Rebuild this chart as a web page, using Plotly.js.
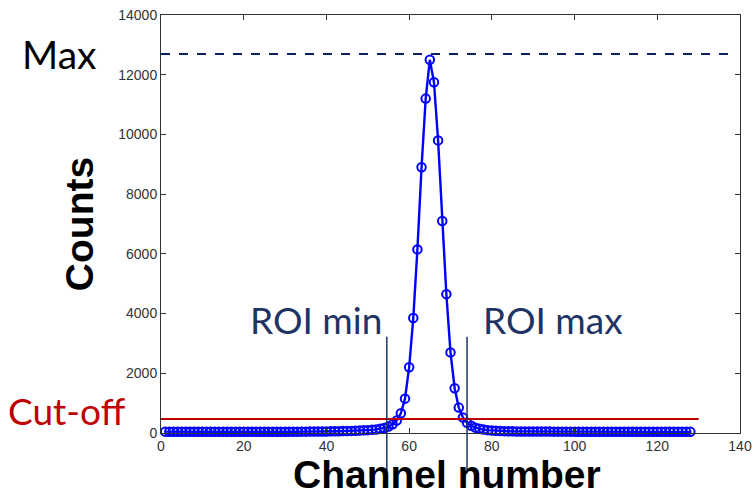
<!DOCTYPE html>
<html>
<head>
<meta charset="utf-8">
<script src="https://cdn.plot.ly/plotly-3.0.1.min.js"></script>
<style>html,body{margin:0;padding:0;background:#fff;}#chart{width:752px;height:495px;}</style>
</head>
<body>
<div id="chart"></div>
<script>
// Channel numbers 1..128
const channels = [
  1,2,3,4,5,6,7,8,9,10,11,12,13,14,15,16,17,18,19,20,
  21,22,23,24,25,26,27,28,29,30,31,32,33,34,35,36,37,38,39,40,
  41,42,43,44,45,46,47,48,49,50,51,52,53,54,55,56,57,58,59,60,
  61,62,63,64,65,66,67,68,69,70,71,72,73,74,75,76,77,78,79,80,
  81,82,83,84,85,86,87,88,89,90,91,92,93,94,95,96,97,98,99,100,
  101,102,103,104,105,106,107,108,109,110,111,112,113,114,115,116,117,118,119,120,
  121,122,123,124,125,126,127,128
];
// Counts
const counts = [
  45,42,40,41,38,40,42,39,40,41,
  40,38,41,40,39,42,40,41,39,40,
  41,40,42,40,41,43,42,41,43,44,
  43,45,44,46,45,47,48,50,51,53,
  55,57,60,63,66,70,75,80,88,95,
  105,120,140,170,215,290,420,660,1150,2200,
  3850,6150,8900,11200,12500,11750,9800,7100,4650,2700,
  1500,850,520,340,240,180,140,115,95,85,
  75,68,62,58,55,53,52,51,50,49,
  48,48,47,47,46,46,45,45,45,44,
  44,44,43,43,43,42,42,42,42,41,
  41,41,41,40,40,40,40,40,39,39,
  39,39,39,38,38,38,38,38
];
const xTicks = [0,20,40,60,80,100,120,140];
const yTicks = [0,2000,4000,6000,8000,10000,12000,14000];
const maxLevel = 12690;
const cutoffLevel = 470;
const cutoffEnd = 130;
const roiMin = 54.6;
const roiMax = 74.0;
const maxLineEnd = 138.8;

const navy = '#1f3464';
const data = [{
  x: channels, y: counts, type: 'scatter', mode: 'lines+markers',
  line: {color: '#0000ff', width: 2.4},
  marker: {symbol: 'circle-open', size: 8.5, color: '#0000ff', line: {width: 2, color: '#0000ff'}},
  hoverinfo: 'skip', cliponaxis: false
}];

const layout = {
  width: 752, height: 495,
  margin: {l: 161, r: 12, t: 15, b: 62},
  paper_bgcolor: '#fff', plot_bgcolor: '#fff',
  showlegend: false,
  font: {family: 'Liberation Sans, Arial, sans-serif', color: '#222'},
  xaxis: {
    range: [0, 140], tickvals: xTicks, ticktext: xTicks.map(String),
    ticks: 'inside', ticklen: 5, tickcolor: '#333', showline: true, linecolor: '#333', linewidth: 1,
    mirror: 'ticks', showgrid: false, zeroline: false,
    tickfont: {size: 14, color: '#333'}
  },
  yaxis: {
    range: [0, 14000], tickvals: yTicks, ticktext: yTicks.map(String),
    ticks: 'inside', ticklen: 5, tickcolor: '#333', showline: true, linecolor: '#333', linewidth: 1,
    mirror: 'ticks', showgrid: false, zeroline: false,
    tickfont: {size: 14, color: '#333'},
    title: {text: 'Counts', font: {size: 39, color: '#000', family: 'Liberation Sans, Arial, sans-serif', weight: 'bold'}, standoff: 12}
  },
  shapes: [
    {type: 'line', xref: 'x', yref: 'y', x0: 0, x1: maxLineEnd, y0: maxLevel, y1: maxLevel,
     line: {color: '#0a2060', width: 2, dash: 'dash'}},
    {type: 'line', xref: 'x', yref: 'y', x0: 0, x1: cutoffEnd, y0: cutoffLevel, y1: cutoffLevel,
     line: {color: '#c00000', width: 2}},
    {type: 'line', xref: 'x', yref: 'paper', x0: roiMin, x1: roiMin, y0: -0.096, y1: 0.23,
     line: {color: navy, width: 1.5}},
    {type: 'line', xref: 'x', yref: 'paper', x0: roiMax, x1: roiMax, y0: -0.096, y1: 0.23,
     line: {color: navy, width: 1.5}}
  ],
  annotations: [
    {text: '<b>Channel number</b>', xref: 'paper', yref: 'paper', x: 0.494, y: -0.1, xanchor: 'center', yanchor: 'middle',
     showarrow: false, font: {family: 'Liberation Sans, Arial, sans-serif', size: 39, color: '#000'}},
    {text: 'Max', xref: 'paper', yref: 'y', x: -0.243, y: maxLevel, xanchor: 'left', yanchor: 'middle',
     showarrow: false, font: {family: 'Lato, sans-serif', size: 39, color: '#000'}},
    {text: 'Cut-off', xref: 'paper', yref: 'y', x: -0.268, y: cutoffLevel + 300, xanchor: 'left', yanchor: 'middle',
     showarrow: false, font: {family: 'Lato, sans-serif', size: 37, color: '#c00000'}},
    {text: 'ROI min', xref: 'x', yref: 'y', x: 53.9, y: 3800, xanchor: 'right', yanchor: 'middle',
     showarrow: false, font: {family: 'Lato, sans-serif', size: 37, color: navy}},
    {text: 'ROI max', xref: 'x', yref: 'y', x: 77.3, y: 3800, xanchor: 'left', yanchor: 'middle',
     showarrow: false, font: {family: 'Lato, sans-serif', size: 37, color: navy}}
  ]
};

Plotly.newPlot('chart', data, layout, {staticPlot: true, displayModeBar: false});
</script>
</body>
</html>
